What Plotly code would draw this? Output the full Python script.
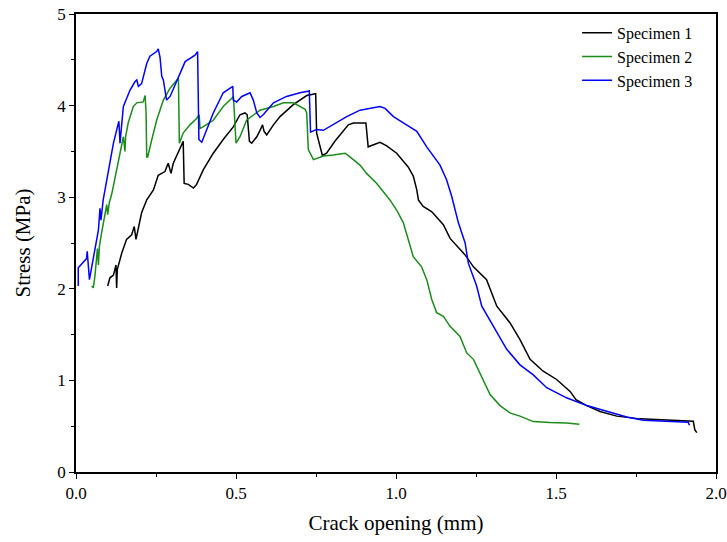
import plotly.graph_objects as go

# Specimen 1 (black)
s1_x = [0.099, 0.106, 0.117, 0.125, 0.127, 0.129, 0.143, 0.158, 0.174, 0.182, 0.1875, 0.195, 0.205, 0.221, 0.242, 0.257, 0.278, 0.288, 0.297, 0.304, 0.320,
        0.325, 0.335, 0.338, 0.351, 0.367, 0.377, 0.398, 0.429, 0.460, 0.492, 0.5125, 0.528, 0.535, 0.542, 0.549, 0.565, 0.575, 0.583, 0.5875, 0.596, 0.617, 0.6375, 0.679, 0.721,
        0.749, 0.752, 0.770, 0.783, 0.809, 0.851, 0.867, 0.906, 0.913, 0.929, 0.95, 0.971, 1.002, 1.038, 1.054, 1.065, 1.07,
        1.085, 1.112, 1.148, 1.169, 1.216, 1.242, 1.283, 1.315, 1.356, 1.3875, 1.419,
        1.460, 1.502, 1.544, 1.5625, 1.596, 1.6375, 1.690, 1.7625, 1.825, 1.8875, 1.929, 1.934, 1.940]
s1_y = [2.03, 2.12, 2.15, 2.26, 2.01, 2.21, 2.39, 2.54, 2.59, 2.68, 2.54, 2.68, 2.83, 2.97, 3.08, 3.24, 3.28, 3.37, 3.26, 3.37, 3.50,
        3.52, 3.61, 3.15, 3.14, 3.10, 3.14, 3.30, 3.48, 3.63, 3.77, 3.90, 3.92, 3.90, 3.61, 3.59, 3.66, 3.73, 3.79, 3.72, 3.68, 3.79, 3.88, 4.01, 4.11,
        4.13, 3.70, 3.455, 3.48, 3.61, 3.79, 3.81, 3.81, 3.55, 3.57, 3.60, 3.56, 3.48, 3.33, 3.23, 3.08, 2.97,
        2.90, 2.84, 2.70, 2.55, 2.37, 2.24, 2.10, 1.81, 1.63, 1.445, 1.23,
        1.10, 1.01, 0.88, 0.79, 0.725, 0.66, 0.61, 0.58, 0.57, 0.565, 0.554, 0.46, 0.43]

# Specimen 2 (green)
s2_x = [0.049, 0.054, 0.059, 0.067, 0.070, 0.073, 0.080, 0.091, 0.096, 0.099, 0.104, 0.112, 0.127, 0.140,
        0.148, 0.153, 0.155, 0.163, 0.179, 0.19, 0.210, 0.216, 0.219, 0.221, 0.224, 0.237, 0.252, 0.273, 0.294, 0.320,
        0.323, 0.335, 0.356, 0.377, 0.385, 0.3875, 0.398, 0.429, 0.460, 0.487, 0.492, 0.5, 0.5125, 0.533, 0.575, 0.617, 0.648, 0.679, 0.70, 0.716,
        0.721, 0.726, 0.742, 0.773, 0.804, 0.841, 0.856, 0.8875, 0.908, 0.940, 0.981,
        1.002, 1.023, 1.038, 1.054, 1.080, 1.096, 1.112, 1.127, 1.148, 1.169, 1.2, 1.221, 1.242, 1.268,
        1.294, 1.325, 1.356, 1.3875, 1.429, 1.481, 1.533, 1.573]
s2_y = [2.03, 2.01, 2.135, 2.44, 2.26, 2.46, 2.61, 2.81, 2.92, 2.81, 2.94, 3.04, 3.30, 3.50,
        3.66, 3.50, 3.66, 3.81, 3.99, 4.03, 4.04, 4.11, 3.92, 3.44, 3.44, 3.63, 3.84, 4.06, 4.19, 4.30,
        3.59, 3.70, 3.79, 3.86, 3.90, 3.75, 3.77, 3.84, 3.99, 4.08, 4.10, 3.59, 3.66, 3.84, 3.95, 3.99, 4.03, 4.03, 3.99, 3.96,
        3.92, 3.52, 3.41, 3.45, 3.46, 3.48, 3.44, 3.35, 3.26, 3.15, 2.97,
        2.86, 2.72, 2.535, 2.35, 2.24, 2.10, 1.88, 1.74, 1.70, 1.59, 1.48, 1.30, 1.23, 1.03,
        0.845, 0.725, 0.645, 0.61, 0.55, 0.54, 0.535, 0.52]

# Specimen 3 (blue)
s3_x = [0.007, 0.007, 0.033, 0.035, 0.042, 0.059, 0.070, 0.075, 0.078, 0.085, 0.096, 0.117,
        0.134, 0.1375, 0.148, 0.169, 0.184, 0.19, 0.195, 0.205, 0.221, 0.231, 0.252, 0.257, 0.2625, 0.268, 0.273, 0.283, 0.294, 0.315, 0.330, 0.341, 0.356, 0.372, 0.380, 0.384,
        0.393, 0.408, 0.429, 0.460, 0.481, 0.490, 0.4915, 0.502, 0.518, 0.544, 0.554, 0.565, 0.575, 0.585, 0.617, 0.658, 0.700, 0.726,
        0.729, 0.733, 0.752, 0.773, 0.804, 0.846, 0.8875, 0.919, 0.95, 0.966, 0.992, 1.033, 1.065, 1.096, 1.1375, 1.158,
        1.174, 1.195, 1.216, 1.226, 1.252, 1.268, 1.304, 1.346, 1.3875, 1.419,
        1.429, 1.471, 1.533, 1.596, 1.658, 1.721, 1.773, 1.846, 1.913, 1.917]
s3_y = [2.03, 2.23, 2.33, 2.41, 2.10, 2.43, 2.64, 2.88, 2.75, 2.97, 3.19, 3.59,
        3.83, 3.59, 3.99, 4.17, 4.26, 4.28, 4.21, 4.24, 4.46, 4.54, 4.59, 4.62, 4.53, 4.32, 4.28, 4.06, 4.10, 4.28, 4.39, 4.48, 4.51, 4.55, 4.59, 3.63,
        3.60, 3.73, 3.92, 4.14, 4.19, 4.21, 4.06, 4.04, 4.10, 4.14, 4.06, 3.92, 3.87, 3.90, 4.03, 4.10, 4.14, 4.16,
        4.16, 3.71, 3.74, 3.73, 3.79, 3.88, 3.95, 3.97, 3.99, 3.97, 3.88, 3.79, 3.72, 3.55, 3.35, 3.19,
        3.01, 2.72, 2.50, 2.28, 2.03, 1.81, 1.59, 1.34, 1.17, 1.09,
        1.06, 0.92, 0.81, 0.725, 0.66, 0.60, 0.565, 0.554, 0.543, 0.51]

names = ["Specimen 1", "Specimen 2", "Specimen 3"]
colors = ["#000000", "#1a8c1a", "#0000ff"]

fig = go.Figure()
for nm, xs, ys, c in zip(names, [s1_x, s2_x, s3_x], [s1_y, s2_y, s3_y], colors):
    fig.add_trace(go.Scatter(x=xs, y=ys, mode="lines", name=nm,
                             line=dict(color=c, width=1.5)))

font_family = "Liberation Serif"
axis_common = dict(showline=True, linecolor="black", linewidth=1.5, mirror=True,
                   ticks="outside", ticklen=5, tickwidth=1.2, tickcolor="black",
                   showgrid=False, zeroline=False, automargin=False,
                   tickfont=dict(family=font_family, size=17, color="black"))

fig.update_layout(
    width=727, height=542,
    margin=dict(l=76, r=11, t=14, b=70),
    paper_bgcolor="white", plot_bgcolor="white",
    font=dict(family=font_family, color="black"),
    showlegend=True,
    legend=dict(x=0.783, y=0.996, xanchor="left", yanchor="top",
                bgcolor="rgba(0,0,0,0)", font=dict(family=font_family, size=16, color="black"),
                tracegroupgap=0, itemwidth=30),
)
fig.update_xaxes(range=[0, 2.0], dtick=0.5, tick0=0, tickformat=".1f",
                 minor=dict(ticks="outside", ticklen=3, dtick=0.25, tickcolor="black"),
                 title=dict(text="Crack opening (mm)", font=dict(family=font_family, size=21), standoff=13),
                 **axis_common)
fig.update_yaxes(range=[0, 5], dtick=1, tick0=0,
                 minor=dict(ticks="outside", ticklen=3, dtick=0.5, tickcolor="black"),
                 title=dict(text="Stress (MPa)", font=dict(family=font_family, size=21), standoff=21),
                 **axis_common)

fig.write_html("out.html")
